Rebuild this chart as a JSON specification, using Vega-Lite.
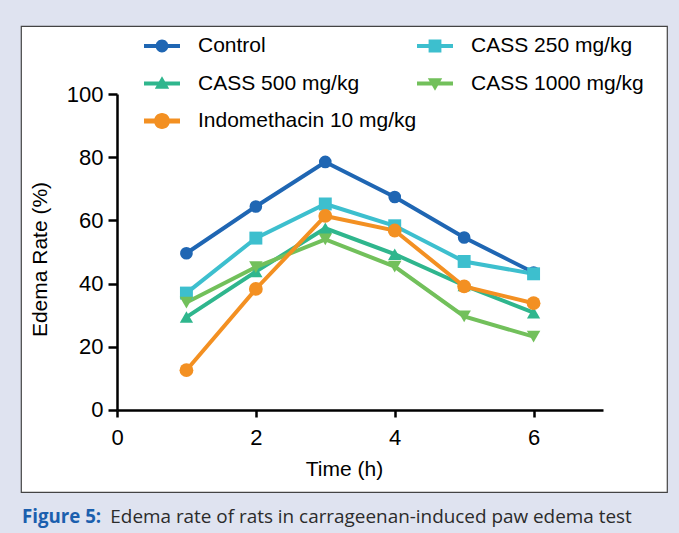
{
  "$schema": "https://vega.github.io/schema/vega-lite/v6.json",
  "width": 646,
  "height": 466,
  "autosize": {"type": "none"},
  "padding": {"left": 21, "top": 26, "right": 12, "bottom": 41},
  "background": "#dfe3f0",
  "title": {
    "text": "Figure 5:",
    "subtitle": "\u200b\u00a0\u00a0\u00a0\u00a0\u00a0\u00a0\u00a0\u00a0\u00a0\u00a0\u00a0\u00a0\u00a0\u00a0\u00a0\u00a0\u00a0\u00a0Edema rate of rats in carrageenan-induced paw edema test",
    "orient": "bottom",
    "anchor": "start",
    "frame": "group",
    "offset": 16,
    "dx": 1,
    "font": "Open Sans",
    "fontSize": 18.7,
    "fontWeight": "bold",
    "color": "#1b5fae",
    "lineHeight": 18.7,
    "subtitleFont": "Open Sans",
    "subtitleFontSize": 18.9,
    "subtitleFontWeight": "normal",
    "subtitleColor": "#2b2b2b",
    "subtitleLineHeight": 18.9,
    "subtitlePadding": -18.7
  },
  "config": {
    "font": "Liberation Sans",
    "view": {"fill": "#ffffff", "stroke": "#444444", "strokeWidth": 1.2},
    "axis": {
      "grid": false,
      "zindex": 1,
      "domainColor": "#000",
      "domainWidth": 2.5,
      "tickColor": "#000",
      "tickWidth": 2.5,
      "labelFont": "Liberation Sans",
      "labelFontSize": 22,
      "labelColor": "#000",
      "titleFont": "Liberation Sans",
      "titleFontSize": 21,
      "titleFontWeight": "normal",
      "titleColor": "#000"
    },
    "legend": {
      "labelFont": "Liberation Sans",
      "labelFontSize": 21,
      "labelColor": "#000",
      "labelOffset": 16,
      "rowPadding": 7.5,
      "padding": 0,
      "symbolSize": 1600,
      "symbolStrokeWidth": 0,
      "symbolOpacity": 1,
      "labelLimit": 400
    }
  },
  "datasets": {
    "main": [
      {"time": 1, "rate": 49.6, "group": "Control"},
      {"time": 2, "rate": 64.4, "group": "Control"},
      {"time": 3, "rate": 78.5, "group": "Control"},
      {"time": 4, "rate": 67.4, "group": "Control"},
      {"time": 5, "rate": 54.6, "group": "Control"},
      {"time": 6, "rate": 43.5, "group": "Control"},
      {"time": 1, "rate": 37.0, "group": "CASS 250 mg/kg"},
      {"time": 2, "rate": 54.4, "group": "CASS 250 mg/kg"},
      {"time": 3, "rate": 65.2, "group": "CASS 250 mg/kg"},
      {"time": 4, "rate": 58.3, "group": "CASS 250 mg/kg"},
      {"time": 5, "rate": 47.0, "group": "CASS 250 mg/kg"},
      {"time": 6, "rate": 43.1, "group": "CASS 250 mg/kg"},
      {"time": 1, "rate": 29.4, "group": "CASS 500 mg/kg"},
      {"time": 2, "rate": 43.8, "group": "CASS 500 mg/kg"},
      {"time": 3, "rate": 57.5, "group": "CASS 500 mg/kg"},
      {"time": 4, "rate": 49.3, "group": "CASS 500 mg/kg"},
      {"time": 5, "rate": 39.4, "group": "CASS 500 mg/kg"},
      {"time": 6, "rate": 30.8, "group": "CASS 500 mg/kg"},
      {"time": 1, "rate": 34.0, "group": "CASS 1000 mg/kg"},
      {"time": 2, "rate": 45.2, "group": "CASS 1000 mg/kg"},
      {"time": 3, "rate": 54.0, "group": "CASS 1000 mg/kg"},
      {"time": 4, "rate": 45.4, "group": "CASS 1000 mg/kg"},
      {"time": 5, "rate": 29.6, "group": "CASS 1000 mg/kg"},
      {"time": 6, "rate": 23.2, "group": "CASS 1000 mg/kg"},
      {"time": 1, "rate": 12.6, "group": "Indomethacin 10 mg/kg"},
      {"time": 2, "rate": 38.3, "group": "Indomethacin 10 mg/kg"},
      {"time": 3, "rate": 61.4, "group": "Indomethacin 10 mg/kg"},
      {"time": 4, "rate": 56.8, "group": "Indomethacin 10 mg/kg"},
      {"time": 5, "rate": 39.1, "group": "Indomethacin 10 mg/kg"},
      {"time": 6, "rate": 33.8, "group": "Indomethacin 10 mg/kg"}
    ]
  },
  "data": {"name": "main"},
  "encoding": {
    "x": {
      "field": "time", "type": "quantitative",
      "scale": {"domain": [-1.3827, 7.9217], "nice": false, "zero": false},
      "axis": {"values": [0, 2, 4, 6], "offset": -82, "domainDash": [0, 96, 486, 2000], "tickSize": 7, "labelPadding": 10, "titlePadding": 10, "title": "Time (h)"}
    },
    "y": {
      "field": "rate", "type": "quantitative",
      "scale": {"domain": [-25.95, 121.52], "nice": false, "zero": false},
      "axis": {"values": [0, 20, 40, 60, 80, 100], "offset": -96, "domainDash": [0, 82, 316, 2000], "tickSize": 9, "labelPadding": 5, "titlePadding": 16, "title": "Edema Rate (%)"}
    }
  },
  "layer": [
    {
      "mark": {"type": "line"},
      "encoding": {
        "color": {
          "field": "group", "type": "nominal", "legend": null,
          "scale": {
            "domain": ["Control", "CASS 250 mg/kg", "CASS 500 mg/kg", "CASS 1000 mg/kg", "Indomethacin 10 mg/kg"],
            "range": ["#1f66b3", "#3dbfce", "#2fb68d", "#72c05b", "#f39022"]
          }
        },
        "strokeWidth": {
          "field": "group", "type": "nominal", "legend": null,
          "scale": {
            "domain": ["Control", "CASS 250 mg/kg", "CASS 500 mg/kg", "CASS 1000 mg/kg", "Indomethacin 10 mg/kg"],
            "range": [4, 4, 4, 4, 5]
          }
        },
        "order": {"field": "time"}
      }
    },
    {
      "mark": {"type": "point", "filled": true, "opacity": 1},
      "encoding": {
        "color": {"field": "group", "type": "nominal", "legend": null},
        "shape": {
          "field": "group", "type": "nominal", "legend": null,
          "scale": {
            "domain": ["Control", "CASS 250 mg/kg", "CASS 500 mg/kg", "CASS 1000 mg/kg", "Indomethacin 10 mg/kg"],
            "range": ["circle", "square", "triangle-up", "triangle-down", "circle"]
          }
        },
        "size": {
          "field": "group", "type": "nominal", "legend": null,
          "scale": {
            "domain": ["Control", "CASS 250 mg/kg", "CASS 500 mg/kg", "CASS 1000 mg/kg", "Indomethacin 10 mg/kg"],
            "range": [160, 190, 200, 200, 290]
          }
        }
      }
    },
    {
      "transform": [{"filter": {"field": "group", "oneOf": ["Control", "CASS 500 mg/kg", "Indomethacin 10 mg/kg"]}}],
      "mark": {"type": "point", "filled": true, "opacity": 0},
      "encoding": {
        "fill": {
          "field": "group", "type": "nominal",
          "scale": {"domain": ["Control", "CASS 500 mg/kg", "Indomethacin 10 mg/kg"], "range": ["#1f66b3", "#2fb68d", "#f39022"]},
          "legend": {"orient": "none", "legendX": 121, "legendY": 0, "title": null, "symbolOpacity": 1}
        },
        "shape": {
          "field": "group", "type": "nominal",
          "scale": {
            "domain": ["Control", "CASS 500 mg/kg", "Indomethacin 10 mg/kg"],
            "range": [
              "M-0.9,-0.1H0.9V0.1H-0.9Z M0,-0.32A0.32,0.32 0 1,1 0,0.32A0.32,0.32 0 1,1 0,-0.32Z",
              "M-0.9,-0.1H0.9V0.1H-0.9Z M0,-0.36L0.36,0.26L-0.36,0.26Z",
              "M-0.9,-0.12H0.9V0.12H-0.9Z M0,-0.4A0.4,0.4 0 1,1 0,0.4A0.4,0.4 0 1,1 0,-0.4Z"
            ]
          },
          "legend": {"orient": "none", "legendX": 121, "legendY": 0, "title": null, "symbolOpacity": 1}
        }
      }
    },
    {
      "transform": [{"filter": {"field": "group", "oneOf": ["CASS 250 mg/kg", "CASS 1000 mg/kg"]}}],
      "mark": {"type": "point", "filled": true, "opacity": 0},
      "encoding": {
        "fill": {
          "field": "group", "type": "nominal",
          "scale": {"domain": ["CASS 250 mg/kg", "CASS 1000 mg/kg"], "range": ["#3dbfce", "#72c05b"]},
          "legend": {"orient": "none", "legendX": 394, "legendY": 0, "title": null, "symbolOpacity": 1}
        },
        "shape": {
          "field": "group", "type": "nominal",
          "scale": {
            "domain": ["CASS 250 mg/kg", "CASS 1000 mg/kg"],
            "range": [
              "M-0.9,-0.1H0.9V0.1H-0.9Z M-0.32,-0.32H0.32V0.32H-0.32Z",
              "M-0.9,-0.1H0.9V0.1H-0.9Z M-0.36,-0.26L0.36,-0.26L0,0.36Z"
            ]
          },
          "legend": {"orient": "none", "legendX": 394, "legendY": 0, "title": null, "symbolOpacity": 1}
        }
      }
    }
  ],
  "resolve": {
    "scale": {"shape": "independent", "fill": "independent", "size": "independent"},
    "legend": {"shape": "independent", "fill": "independent"}
  }
}
